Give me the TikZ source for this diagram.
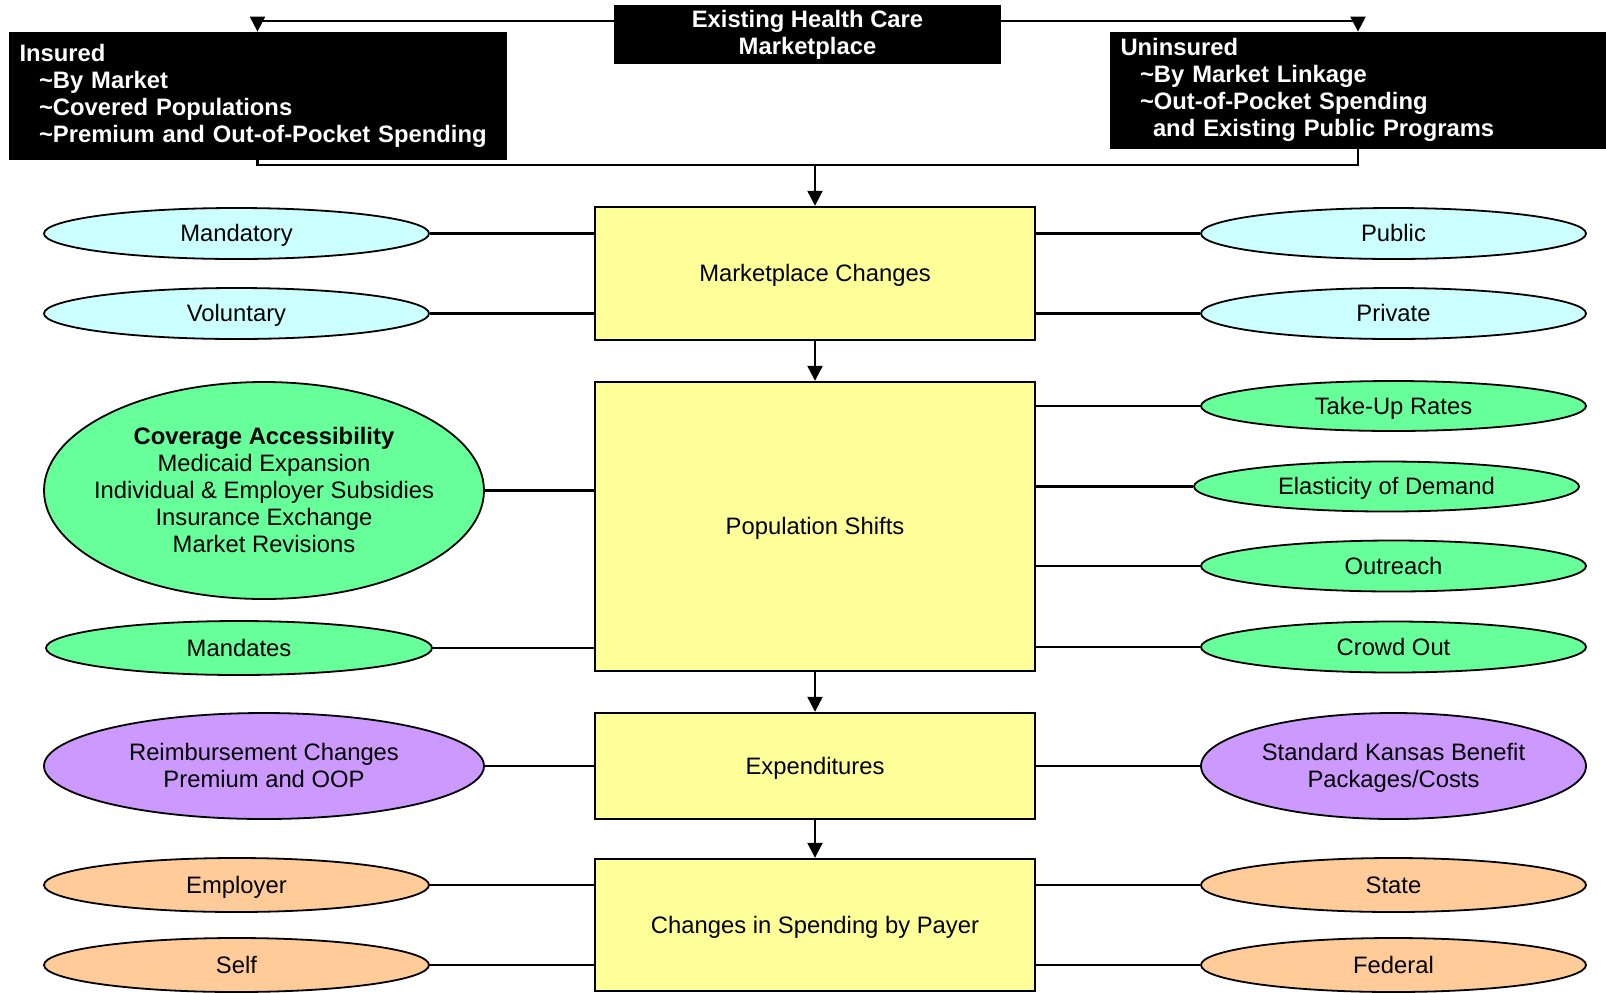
\documentclass[tikz,border=0pt]{standalone}
\usepackage{fontspec}
\setmainfont{Liberation Sans}
\usetikzlibrary{shapes.geometric,arrows.meta}
\definecolor{cyanfill}{HTML}{CCFFFF}
\definecolor{greenfill}{HTML}{66FF99}
\definecolor{purplefill}{HTML}{CC99FF}
\definecolor{orangefill}{HTML}{FFCC99}
\definecolor{yellowfill}{HTML}{FFFF99}
\newcommand{\zw}[1]{\raisebox{-4.3pt}[0pt][0pt]{\makebox[0pt][c]{\begin{tabular}{@{}c@{}}#1\end{tabular}}}}
\tikzset{
  every node/.style={font=\fontsize{11.9}{13.5}\selectfont},
  blackbox/.style={rectangle, fill=black, draw=black, text=white, font=\fontsize{11.9}{13.5}\selectfont\bfseries, inner sep=0pt},
  mainbox/.style={rectangle, fill=yellowfill, draw=black, line width=1.2pt, minimum width=220pt, inner sep=0pt, text height=9pt, text depth=0.8pt},
  ell/.style={ellipse, draw=black, line width=0.9pt, inner sep=0pt, minimum width=192.5pt, minimum height=25.5pt},
  cyanell/.style={ell, fill=cyanfill},
  greenell/.style={ell, fill=greenfill},
  purpleell/.style={ell, fill=purplefill},
  orangeell/.style={ell, fill=orangefill},
  conn/.style={line width=1.1pt},
  arr/.style={line width=1.1pt, -{Triangle[length=7.5pt,width=7.5pt]}},
}
\begin{document}
\begin{tikzpicture}[x=0.5pt,y=-0.5pt]
\useasboundingbox (0,0) rectangle (1606,992);

% top black boxes
\node[blackbox, minimum width=193pt, minimum height=29pt, align=center] (top) at (807.5,34.5) {Existing Health Care\\Marketplace};
\node[blackbox, minimum width=248.5pt, minimum height=63.5pt, text width=238pt, align=left] (ins) at (257.5,95.5)
  {Insured\\\hspace*{9.75pt}\textasciitilde By Market\\\hspace*{9.75pt}\textasciitilde Covered Populations\\\hspace*{9.75pt}\textasciitilde Premium and Out-of-Pocket Spending};
\node[blackbox, minimum width=248pt, minimum height=58pt, text width=237.5pt, align=left] (unins) at (1358,90)
  {Uninsured\\\hspace*{9.75pt}\textasciitilde By Market Linkage\\\hspace*{9.75pt}\textasciitilde Out-of-Pocket Spending\\\hspace*{16.25pt}and Existing Public Programs};

% main column
\node[mainbox, minimum height=66.5pt] (mc) at (815,273.5) {Marketplace Changes};
\node[mainbox, minimum height=144.5pt] (ps) at (815,526.5) {Population Shifts};
\node[mainbox, minimum height=53pt] (ex) at (815,766) {Expenditures};
\node[mainbox, minimum height=66pt] (cs) at (815,925) {Changes in Spending by Payer};

% ellipses
\node[cyanell] (mand) at (236.5,233.5) {\zw{Mandatory}};
\node[cyanell] (vol) at (236.5,313.5) {\zw{Voluntary}};
\node[cyanell] (pub) at (1393.5,233.5) {\zw{Public}};
\node[cyanell] (priv) at (1393.5,313.5) {\zw{Private}};

\node[greenell, minimum height=25pt] (take) at (1393.5,406) {\zw{Take-Up Rates}};
\node[greenell, minimum height=25pt] (elas) at (1386.5,486.5) {\zw{Elasticity of Demand}};
\node[greenell, minimum height=25.5pt] (outr) at (1393.5,566) {\zw{Outreach}};
\node[greenell, minimum height=25.5pt] (crowd) at (1393.5,647) {\zw{Crowd Out}};
\node[greenell, minimum width=220pt, minimum height=108.5pt] (cov) at (264,490.5)
  {\zw{\textbf{Coverage Accessibility}\\Medicaid Expansion\\Individual \& Employer Subsidies\\Insurance Exchange\\Market Revisions}};
\node[greenell, minimum width=193pt, minimum height=27pt] (mdts) at (239,648) {\zw{Mandates}};

\node[purpleell, minimum width=220pt, minimum height=53pt] (reim) at (264,766) {\zw{Reimbursement Changes\\Premium and OOP}};
\node[purpleell, minimum height=53pt] (std) at (1393.5,766) {\zw{Standard Kansas Benefit\\Packages/Costs}};

\node[orangeell, minimum height=27pt] (emp) at (236.5,885) {\zw{Employer}};
\node[orangeell, minimum height=27pt] (self) at (236.5,965) {\zw{Self}};
\node[orangeell, minimum height=27pt] (state) at (1393.5,885) {\zw{State}};
\node[orangeell, minimum height=27pt] (fed) at (1393.5,965) {\zw{Federal}};

% top connectors
\draw[arr] ([yshift=6.75pt]top.west) -| (ins.north);
\draw[arr] ([yshift=6.75pt]top.east) -| (unins.north);
\coordinate (bus) at (815,165);
\draw[conn] (ins.south) |- (bus) -| (unins.south);
\draw[arr] (bus) -- (mc.north);

% main arrows
\draw[arr] (mc.south) -- (ps.north);
\draw[arr] (ps.south) -- (ex.north);
\draw[arr] (ex.south) -- (cs.north);

% side connectors
\foreach \e/\b in {mand/mc, vol/mc, cov/ps, mdts/ps, reim/ex, emp/cs, self/cs}
  \draw[conn] (\e.east) -- (\e.east -| \b.west);
\foreach \e/\b in {pub/mc, priv/mc, take/ps, elas/ps, outr/ps, crowd/ps, std/ex, state/cs, fed/cs}
  \draw[conn] (\e.west) -- (\e.west -| \b.east);
\end{tikzpicture}
\end{document}
